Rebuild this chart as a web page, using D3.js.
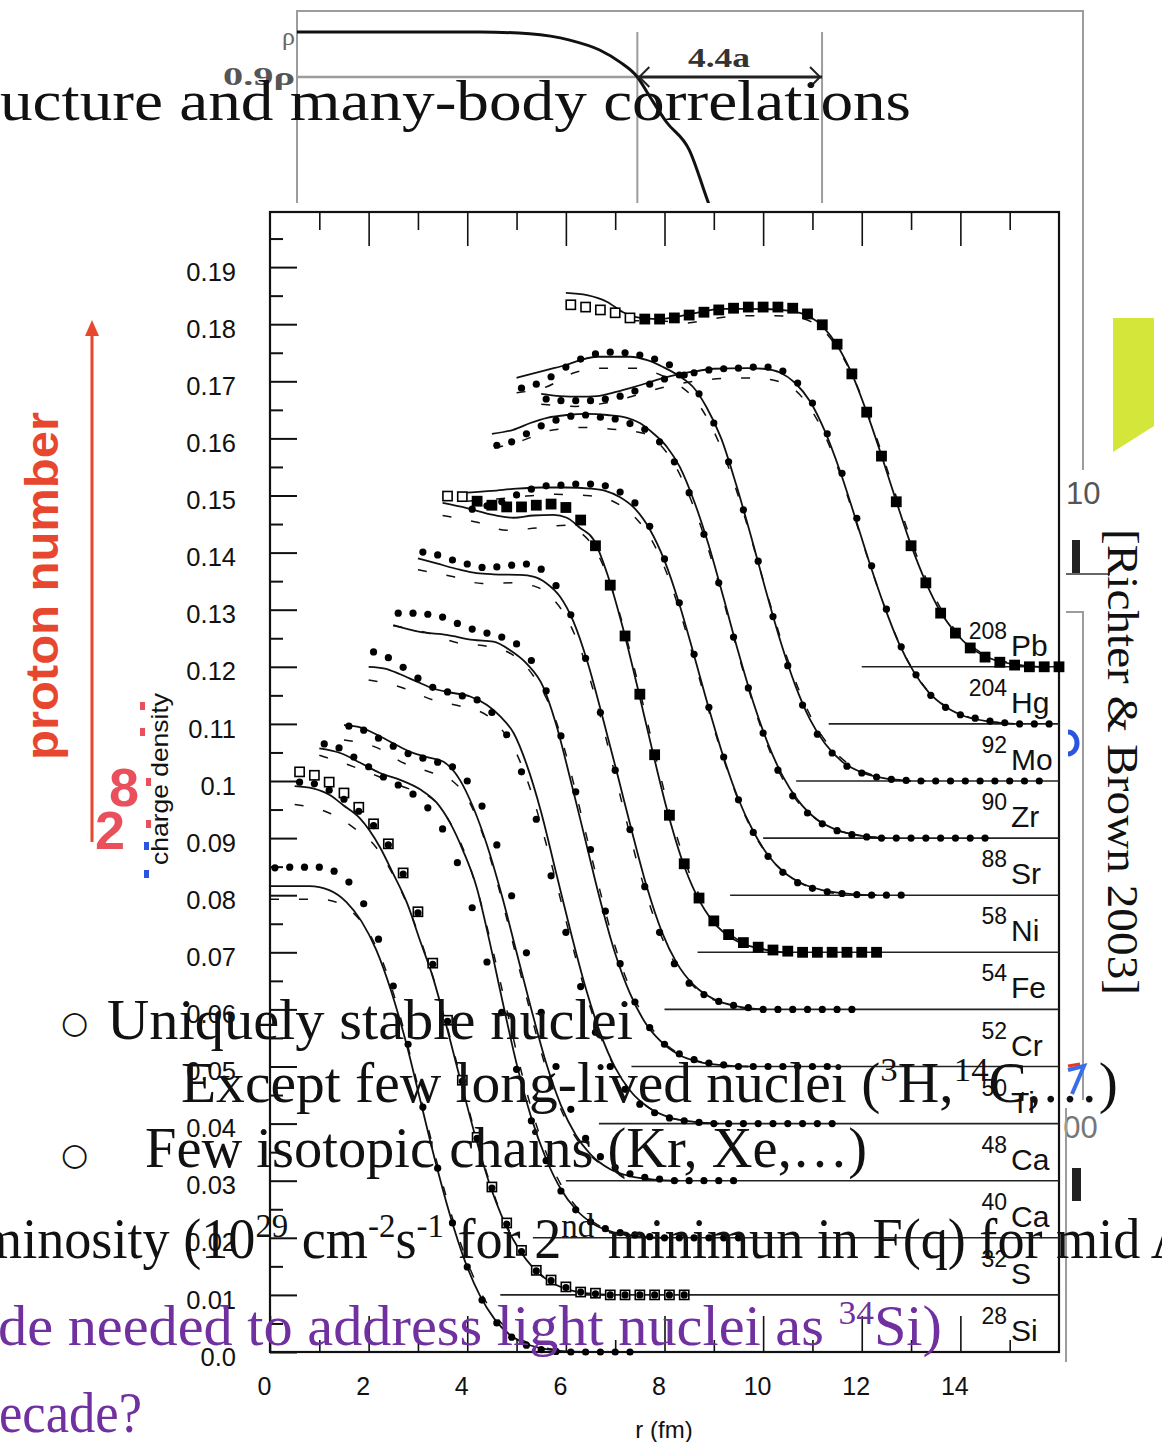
<!DOCTYPE html>
<html><head><meta charset="utf-8">
<script src="https://cdn.jsdelivr.net/npm/d3@7"></script>
<style>html,body{margin:0;padding:0;background:#fff;}svg{display:block}</style>
</head><body>
<svg id="c" width="1162" height="1442"></svg>
<script>
// ---------------- DATA ----------------
const nuclei      = ["Si","S","Ca","Ca","Ti","Cr","Fe","Ni","Sr","Zr","Mo","Hg","Pb"];
const massNumbers = ["28","32","40","48","50","52","54","58","88","90","92","204","208"];
const yOffsets    = [0,0.01,0.02,0.03,0.04,0.05,0.06,0.07,0.08,0.09,0.10,0.11,0.12];
const rShifts     = [0,0.5,1.0,1.5,2.0,2.5,3.0,3.5,4.0,4.5,5.0,5.5,6.0];
const lineStartR  = [null,4.67,5.33,6.0,6.67,7.33,8.0,8.67,9.33,10.0,10.67,11.33,12.0];
const markerR = [0.1,0.4,0.7,1.0,1.3,1.6,1.9,2.2,2.5,2.8,3.1,3.4,3.7,4.0,4.3,4.6,4.9,5.2,5.5,5.8,6.1,6.4,6.7,7.0,7.3,7.6,7.9,8.2,8.5,8.8,9.1,9.4,9.7,10.0,10.3,10.6,10.9];
const yTicks = [0,0.01,0.02,0.03,0.04,0.05,0.06,0.07,0.08,0.09,0.10,0.11,0.12,0.13,0.14,0.15,0.16,0.17,0.18,0.19];
const xTicks = [0,2,4,6,8,10,12,14];

// experimental markers (density at markerR)
const si28Dots = [0.0848,0.0849,0.0849,0.0849,0.0842,0.0823,0.0785,0.0723,0.0641,0.0539,0.0429,0.0322,0.0226,0.0149,0.0091,0.0051,0.0026,0.0012,0.0004,0.0001,0,0,0,0,0];
const s32Squares = [0.0916,0.0910,0.0898,0.0879,0.0854,0.0825,0.0790,0.0739,0.0671,0.0581,0.0481,0.0376,0.0276,0.0189,0.0126,0.0078,0.0043,0.0026,0.0014,0.0005,0.0003,0,0,0,0,0,0];
const s32Dots = [0.0898,0.0895,0.0884,0.0868,0.0847,0.0822,0.0788,0.0737,0.0669,0.0579,0.0479,0.0374,0.0274,0.0187,0.0124,0.0076,0.0042,0.0025,0.0013,0.0005,0.0002,0,0,0,0,0,0];
const ca40Dots = [0.0865,0.0858,0.0842,0.0825,0.0807,0.0793,0.0777,0.0753,0.0716,0.0657,0.0578,0.0483,0.0395,0.0295,0.0205,0.0135,0.0082,0.0049,0.0028,0.0016,0.0009,0.0005,0.0002,0,0,0,0,0,0];
const ca48Dots = [0.0796,0.0789,0.0775,0.0761,0.0748,0.0740,0.0733,0.0725,0.0700,0.0656,0.0588,0.0499,0.0399,0.0295,0.0200,0.0125,0.0074,0.0042,0.0023,0.0012,0.0006,0.0003,0,0,0,0,0];
const ti50Dots = [0.0826,0.0816,0.0799,0.0780,0.0764,0.0756,0.0749,0.0742,0.0720,0.0681,0.0616,0.0533,0.0434,0.0335,0.0240,0.0160,0.0100,0.0060,0.0034,0.0019,0.0010,0.0005,0.0002,0,0,0,0,0,0,0,0,0];
const cr52Dots = [0.0794,0.0794,0.0792,0.0787,0.0776,0.0766,0.0759,0.0752,0.0740,0.0711,0.0658,0.0579,0.0481,0.0380,0.0272,0.0180,0.0113,0.0068,0.0039,0.0022,0.0012,0.0006,0.0003,0,0,0,0,0,0,0];
const fe54Dots = [0.0801,0.0796,0.0787,0.0780,0.0774,0.0775,0.0778,0.0780,0.0771,0.0742,0.0691,0.0615,0.0520,0.0419,0.0315,0.0215,0.0135,0.0080,0.0046,0.0026,0.0014,0.0007,0.0003,0,0,0,0,0,0,0];
const ni58Squares = [0.0799,0.0798,0.0790,0.0783,0.0780,0.0780,0.0783,0.0785,0.0779,0.0757,0.0712,0.0643,0.0554,0.0452,0.0346,0.0240,0.0155,0.0095,0.0055,0.0031,0.0017,0.0009,0.0004,0.0002,0,0,0,0,0,0];
const sr88Dots = [0.0676,0.0682,0.0689,0.0701,0.0711,0.0717,0.0718,0.0720,0.0720,0.0717,0.0706,0.0687,0.0646,0.0589,0.0512,0.0422,0.0329,0.0242,0.0167,0.0110,0.0068,0.0040,0.0022,0.0012,0.0006,0.0003,0.0001,0,0,0];
const zr90Dots = [0.0688,0.0694,0.0708,0.0722,0.0732,0.0739,0.0741,0.0737,0.0734,0.0726,0.0716,0.0694,0.0659,0.0605,0.0532,0.0447,0.0352,0.0263,0.0184,0.0119,0.0074,0.0044,0.0025,0.0013,0.0006,0.0002,0,0,0,0,0,0,0,0];
const mo92Dots = [0.0688,0.0695,0.0708,0.0725,0.0739,0.0748,0.0751,0.0750,0.0746,0.0739,0.0729,0.0711,0.0678,0.0627,0.0559,0.0475,0.0385,0.0288,0.0202,0.0133,0.0082,0.0049,0.0026,0.0014,0.0007,0.0003,0.0001,0,0,0,0,0,0,0,0,0];
const hg204Dots = [0.0569,0.0566,0.0566,0.0566,0.0569,0.0574,0.0583,0.0595,0.0604,0.0611,0.0615,0.0620,0.0622,0.0623,0.0625,0.0625,0.0618,0.0597,0.0562,0.0508,0.0439,0.0360,0.0277,0.0201,0.0135,0.0086,0.0050,0.0029,0.0016,0.0010,0.0005,0.0002,0,0,0];
const pb208Squares = [0.0634,0.0630,0.0625,0.0620,0.0611,0.0609,0.0609,0.0611,0.0616,0.0621,0.0625,0.0628,0.0630,0.0630,0.0630,0.0628,0.0618,0.0599,0.0565,0.0513,0.0446,0.0369,0.0289,0.0212,0.0147,0.0094,0.0059,0.0033,0.0017,0.0008,0.0003,0,0,0];

// theory: solid [r, density]
const si28Solid = [[0,0.0816],[0.8,0.0816],[1.2,0.0809],[1.55,0.0788],[1.85,0.0755],[2.15,0.0705],[2.45,0.0634],[2.75,0.0545],[3.05,0.0440],[3.35,0.0335],[3.65,0.0240],[3.95,0.0160],[4.25,0.0100],[4.55,0.0058],[4.85,0.0031],[5.2,0.0014],[5.6,0.0005],[6.0,0.0001],[6.5,0]];
const s32Solid = [[0,0.0891],[0.37,0.0887],[0.72,0.0875],[0.98,0.0858],[1.32,0.0835],[1.73,0.0784],[1.99,0.0739],[2.28,0.0686],[2.54,0.0621],[2.79,0.0560],[3.05,0.0480],[3.35,0.0380],[3.65,0.0282],[3.95,0.0195],[4.25,0.0128],[4.55,0.0080],[4.85,0.0046],[5.2,0.0022],[5.6,0.0008],[6.0,0.0002],[6.5,0]];
const ca40Solid = [[0,0.0857],[0.42,0.0849],[0.83,0.0832],[1.23,0.0814],[1.64,0.0802],[2.05,0.0785],[2.38,0.0762],[2.65,0.0727],[2.91,0.0679],[3.19,0.0614],[3.45,0.0520],[3.7,0.0420],[4.0,0.0305],[4.3,0.0210],[4.6,0.0138],[4.9,0.0085],[5.2,0.0050],[5.6,0.0022],[6.0,0.0009],[6.5,0.0002],[7.0,0]];
const ca48Solid = [[0,0.0798],[0.33,0.0794],[0.67,0.0781],[1.0,0.0766],[1.34,0.0751],[1.68,0.0742],[2.01,0.0734],[2.35,0.0702],[2.62,0.0654],[2.9,0.0588],[3.2,0.0500],[3.5,0.0400],[3.8,0.0300],[4.1,0.0206],[4.4,0.0132],[4.7,0.0080],[5.0,0.0046],[5.4,0.0020],[5.8,0.0008],[6.3,0.0002],[6.8,0]];
const ti50Solid = [[0,0.0800],[0.33,0.0797],[0.64,0.0787],[0.98,0.0774],[1.31,0.0762],[1.65,0.0755],[2.06,0.0748],[2.4,0.0733],[2.67,0.0713],[2.94,0.0684],[3.2,0.0630],[3.5,0.0545],[3.8,0.0440],[4.1,0.0335],[4.4,0.0238],[4.7,0.0158],[5.0,0.0098],[5.3,0.0058],[5.7,0.0027],[6.1,0.0011],[6.6,0.0003],[7.1,0]];
const cr52Solid = [[0,0.0773],[0.54,0.0761],[1.08,0.0756],[1.62,0.0747],[2.03,0.0744],[2.37,0.0729],[2.7,0.0706],[3.04,0.0665],[3.3,0.0600],[3.6,0.0500],[3.9,0.0395],[4.2,0.0290],[4.5,0.0198],[4.8,0.0128],[5.1,0.0078],[5.4,0.0046],[5.8,0.0020],[6.2,0.0008],[6.7,0.0002],[7.2,0]];
const fe54Solid = [[0,0.0790],[0.38,0.0781],[0.85,0.0770],[1.19,0.0764],[1.53,0.0762],[2.07,0.0761],[2.34,0.0758],[2.61,0.0746],[2.88,0.0723],[3.15,0.0680],[3.45,0.0605],[3.75,0.0510],[4.05,0.0410],[4.35,0.0308],[4.65,0.0212],[4.95,0.0135],[5.25,0.0081],[5.6,0.0042],[6.0,0.0018],[6.5,0.0005],[7.0,0]];
const ni58Solid = [[0,0.0787],[0.49,0.0778],[1.03,0.0766],[1.44,0.0761],[1.84,0.0765],[2.25,0.0766],[2.52,0.0761],[2.79,0.0743],[3.06,0.0723],[3.35,0.0660],[3.65,0.0570],[3.95,0.0465],[4.25,0.0355],[4.55,0.0250],[4.85,0.0163],[5.15,0.0100],[5.5,0.0052],[5.9,0.0023],[6.4,0.0007],[6.9,0]];
const sr88Solid = [[0,0.0705],[0.5,0.0708],[1.0,0.0712],[1.5,0.0714],[2.0,0.0714],[2.5,0.0712],[2.8,0.0708],[3.1,0.0697],[3.4,0.0677],[3.7,0.0641],[4.0,0.0586],[4.3,0.0510],[4.6,0.0420],[4.9,0.0327],[5.2,0.0241],[5.5,0.0168],[5.8,0.0112],[6.1,0.0070],[6.4,0.0042],[6.8,0.0020],[7.2,0.0009],[7.8,0.0002],[8.3,0]];
const zr90Solid = [[0,0.0708],[0.43,0.0715],[0.78,0.0727],[1.12,0.0736],[1.52,0.0741],[1.93,0.0743],[2.34,0.0741],[2.74,0.0736],[3.0,0.0727],[3.27,0.0709],[3.55,0.0685],[3.81,0.0650],[4.1,0.0590],[4.4,0.0512],[4.7,0.0420],[5.0,0.0325],[5.3,0.0238],[5.6,0.0165],[5.9,0.0108],[6.2,0.0067],[6.6,0.0032],[7.0,0.0014],[7.5,0.0004],[8.0,0]];
const mo92Solid = [[0,0.0706],[0.62,0.0720],[1.02,0.0729],[1.29,0.0737],[1.63,0.0743],[1.96,0.0743],[2.3,0.0743],[2.65,0.0737],[2.97,0.0725],[3.32,0.0708],[3.58,0.0690],[3.85,0.0655],[4.15,0.0600],[4.45,0.0520],[4.75,0.0430],[5.05,0.0335],[5.35,0.0245],[5.65,0.0168],[5.95,0.0108],[6.25,0.0066],[6.6,0.0034],[7.0,0.0015],[7.5,0.0004],[8.0,0]];
const hg204Solid = [[0,0.0578],[0.38,0.0574],[0.79,0.0573],[1.13,0.0574],[1.46,0.0580],[1.8,0.0588],[2.15,0.0597],[2.48,0.0606],[2.82,0.0613],[3.16,0.0618],[3.49,0.0622],[4.18,0.0623],[4.5,0.0622],[4.85,0.0615],[5.15,0.0597],[5.45,0.0565],[5.75,0.0513],[6.05,0.0445],[6.35,0.0366],[6.65,0.0284],[6.95,0.0208],[7.25,0.0142],[7.55,0.0092],[7.85,0.0056],[8.2,0.0030],[8.6,0.0013],[9.1,0.0004],[9.6,0]];
const pb208Solid = [[0,0.0655],[0.43,0.0651],[0.84,0.0639],[1.16,0.0621],[1.51,0.0611],[1.85,0.0609],[2.32,0.0614],[2.72,0.0621],[3.13,0.0627],[3.67,0.0627],[4.34,0.0625],[4.69,0.0621],[4.95,0.0613],[5.22,0.0595],[5.5,0.0563],[5.8,0.0513],[6.1,0.0446],[6.4,0.0370],[6.7,0.0290],[7.0,0.0213],[7.3,0.0148],[7.6,0.0096],[7.9,0.0060],[8.2,0.0034],[8.6,0.0015],[9.1,0.0004],[9.6,0]];

// theory: dashed [r, density]
const si28Dashed = [[0,0.0793],[1.0,0.0793],[1.4,0.0786],[1.7,0.0768],[2.0,0.0735],[2.3,0.0680],[2.6,0.0600],[2.9,0.0500],[3.2,0.0395],[3.5,0.0295],[3.8,0.0207],[4.1,0.0137],[4.4,0.0085],[4.7,0.0050],[5.0,0.0027],[5.4,0.0011],[5.8,0.0004],[6.3,0]];
const s32Dashed = [[0,0.0859],[0.7,0.0844],[1.2,0.0818],[1.65,0.0784],[2.0,0.0735],[2.3,0.0680],[2.6,0.0610],[2.9,0.0530],[3.2,0.0435],[3.5,0.0335],[3.8,0.0240],[4.1,0.0162],[4.4,0.0104],[4.7,0.0062],[5.0,0.0035],[5.4,0.0014],[5.8,0.0005],[6.3,0]];
const ca40Dashed = [[0,0.0845],[0.6,0.0828],[1.2,0.0808],[1.7,0.0790],[2.3,0.0768],[2.6,0.0735],[2.9,0.0685],[3.2,0.0610],[3.5,0.0510],[3.8,0.0400],[4.1,0.0290],[4.4,0.0198],[4.7,0.0128],[5.0,0.0079],[5.3,0.0046],[5.7,0.0020],[6.2,0.0006],[6.8,0]];
const ca48Dashed = [[0,0.0772],[0.68,0.0758],[1.22,0.0731],[1.8,0.0714],[2.2,0.0700],[2.5,0.0670],[2.8,0.0610],[3.1,0.0525],[3.4,0.0425],[3.7,0.0322],[4.0,0.0225],[4.3,0.0146],[4.6,0.0090],[4.9,0.0053],[5.3,0.0024],[5.7,0.0009],[6.2,0.0002],[6.7,0]];
const ti50Dashed = [[0,0.0777],[0.7,0.0763],[1.3,0.0742],[1.9,0.0730],[2.4,0.0715],[2.7,0.0690],[3.0,0.0648],[3.3,0.0580],[3.6,0.0490],[3.9,0.0390],[4.2,0.0290],[4.5,0.0202],[4.8,0.0132],[5.1,0.0082],[5.5,0.0040],[5.9,0.0017],[6.4,0.0005],[6.9,0]];
const cr52Dashed = [[0,0.0772],[0.7,0.0759],[1.3,0.0742],[1.9,0.0736],[2.4,0.0722],[2.7,0.0700],[3.0,0.0662],[3.3,0.0605],[3.6,0.0515],[3.9,0.0410],[4.2,0.0305],[4.5,0.0210],[4.8,0.0137],[5.1,0.0085],[5.4,0.0050],[5.8,0.0022],[6.3,0.0007],[6.8,0]];
const fe54Dashed = [[0,0.0770],[0.7,0.0758],[1.3,0.0746],[1.9,0.0747],[2.4,0.0740],[2.7,0.0722],[3.0,0.0688],[3.3,0.0630],[3.6,0.0545],[3.9,0.0445],[4.2,0.0340],[4.5,0.0240],[4.8,0.0158],[5.1,0.0098],[5.4,0.0058],[5.8,0.0026],[6.3,0.0008],[6.8,0]];
const ni58Dashed = [[0,0.0765],[0.7,0.0753],[1.3,0.0739],[1.9,0.0743],[2.5,0.0748],[2.8,0.0735],[3.1,0.0705],[3.4,0.0645],[3.7,0.0560],[4.0,0.0458],[4.3,0.0350],[4.6,0.0248],[4.9,0.0163],[5.2,0.0101],[5.5,0.0060],[5.9,0.0027],[6.4,0.0008],[6.9,0]];
const sr88Dashed = [[0,0.0690],[0.6,0.0694],[1.2,0.0699],[1.8,0.0702],[2.4,0.0700],[2.8,0.0695],[3.1,0.0683],[3.4,0.0662],[3.7,0.0628],[4.0,0.0574],[4.3,0.0500],[4.6,0.0412],[4.9,0.0322],[5.2,0.0238],[5.5,0.0166],[5.8,0.0110],[6.1,0.0069],[6.5,0.0035],[7.0,0.0012],[7.6,0.0002],[8.0,0]];
const zr90Dashed = [[0.05,0.0683],[0.64,0.0697],[1.18,0.0714],[1.85,0.0719],[2.44,0.0716],[3.07,0.0709],[3.4,0.0690],[3.7,0.0655],[4.0,0.0600],[4.3,0.0530],[4.6,0.0445],[4.9,0.0352],[5.2,0.0262],[5.5,0.0183],[5.8,0.0120],[6.1,0.0075],[6.5,0.0038],[7.0,0.0014],[7.6,0.0003],[8.1,0]];
const mo92Dashed = [[0,0.0680],[0.6,0.0690],[1.2,0.0716],[1.8,0.0723],[2.4,0.0723],[2.9,0.0712],[3.3,0.0693],[3.6,0.0670],[3.9,0.0630],[4.2,0.0572],[4.5,0.0498],[4.8,0.0412],[5.1,0.0322],[5.4,0.0238],[5.7,0.0165],[6.0,0.0107],[6.3,0.0066],[6.7,0.0032],[7.2,0.0011],[7.8,0.0002],[8.3,0]];
const hg204Dashed = [[0,0.0560],[0.7,0.0556],[1.3,0.0562],[1.9,0.0575],[2.5,0.0590],[3.1,0.0600],[3.7,0.0605],[4.3,0.0606],[4.8,0.0600],[5.1,0.0588],[5.4,0.0560],[5.7,0.0515],[6.0,0.0452],[6.3,0.0376],[6.6,0.0296],[6.9,0.0220],[7.2,0.0153],[7.5,0.0100],[7.8,0.0062],[8.2,0.0031],[8.7,0.0011],[9.3,0.0002],[9.8,0]];
const pb208Dashed = [[1.3,0.0606],[1.9,0.0606],[2.4,0.0602],[3.0,0.0610],[3.6,0.0615],[4.2,0.0615],[4.7,0.0612],[5.0,0.0603],[5.3,0.0582],[5.6,0.0545],[5.9,0.0493],[6.2,0.0426],[6.5,0.0350],[6.8,0.0272],[7.1,0.0198],[7.4,0.0136],[7.7,0.0088],[8.0,0.0054],[8.4,0.0026],[8.9,0.0009],[9.5,0]];

// inset (Fermi sketch) data
const insetR   = [0,2.33,2.96,3.47,3.85,4.11,4.33,4.49,4.7,4.99,5.22,5.4];
const insetRho = [1,1,0.996,0.982,0.96,0.933,0.9,0.856,0.80,0.738,0.627,0.54];

// ---------------- TABLE ----------------
const series = [
  {solid:si28Solid, dashed:si28Dashed, marks:[{kind:"dot", v:si28Dots}]},
  {solid:s32Solid, dashed:s32Dashed, marks:[{kind:"sq", open:99, v:s32Squares},{kind:"dot", v:s32Dots}]},
  {solid:ca40Solid, dashed:ca40Dashed, marks:[{kind:"dot", v:ca40Dots}]},
  {solid:ca48Solid, dashed:ca48Dashed, marks:[{kind:"dot", v:ca48Dots}]},
  {solid:ti50Solid, dashed:ti50Dashed, marks:[{kind:"dot", v:ti50Dots}]},
  {solid:cr52Solid, dashed:cr52Dashed, marks:[{kind:"dot", v:cr52Dots}]},
  {solid:fe54Solid, dashed:fe54Dashed, marks:[{kind:"dot", v:fe54Dots}]},
  {solid:ni58Solid, dashed:ni58Dashed, marks:[{kind:"sq", open:2, v:ni58Squares}]},
  {solid:sr88Solid, dashed:sr88Dashed, marks:[{kind:"dot", v:sr88Dots}]},
  {solid:zr90Solid, dashed:zr90Dashed, marks:[{kind:"dot", v:zr90Dots}]},
  {solid:mo92Solid, dashed:mo92Dashed, marks:[{kind:"dot", v:mo92Dots}]},
  {solid:hg204Solid, dashed:hg204Dashed, marks:[{kind:"dot", v:hg204Dots}]},
  {solid:pb208Solid, dashed:pb208Dashed, marks:[{kind:"sq", open:5, v:pb208Squares}]}
];

// ---------------- DRAW ----------------
const svg = d3.select("#c");
const SANS = "'Liberation Sans', Arial, sans-serif";
const SERIF = "'Liberation Serif', 'Times New Roman', serif";

// --- background inset sketch ---
const ins = svg.append("g");
const ix = d3.scaleLinear().domain([0,10]).range([297,1083]);
const iy = d3.scaleLinear().domain([0,1]).range([482,32]);
const gray = "#9c9c9c";
ins.append("path").attr("d", `M${ix(0)},205V11H${ix(10)}V470`).attr("fill","none").attr("stroke",gray).attr("stroke-width",2);
[4.33,6.68].forEach(r => ins.append("line").attr("x1",ix(r)).attr("x2",ix(r)).attr("y1",iy(1)).attr("y2",205).attr("stroke",gray).attr("stroke-width",2));
ins.append("line").attr("x1",ix(0)).attr("x2",ix(4.33)).attr("y1",iy(0.9)).attr("y2",iy(0.9)).attr("stroke",gray).attr("stroke-width",2.5);
ins.append("path").datum(insetR.map((r,i)=>[r,insetRho[i]]))
  .attr("d", d3.line().x(d=>ix(d[0])).y(d=>iy(d[1])).curve(d3.curveMonotoneX))
  .attr("fill","none").attr("stroke","#111").attr("stroke-width",3);
ins.append("line").attr("x1",ix(4.33)).attr("x2",ix(6.68)).attr("y1",iy(0.9)).attr("y2",iy(0.9)).attr("stroke","#222").attr("stroke-width",3);
ins.append("path").attr("d",`M${ix(4.33)+12},${iy(0.9)-10}L${ix(4.33)+2},${iy(0.9)}L${ix(4.33)+12},${iy(0.9)+10}`).attr("fill","none").attr("stroke","#222").attr("stroke-width",2);
ins.append("path").attr("d",`M${ix(6.68)-12},${iy(0.9)-10}L${ix(6.68)-2},${iy(0.9)}L${ix(6.68)-12},${iy(0.9)+10}`).attr("fill","none").attr("stroke","#222").attr("stroke-width",2);
ins.append("text").attr("x",688).attr("y",67).attr("font-family",SERIF).attr("font-weight","bold").attr("font-size",27).attr("fill","#333").attr("textLength",62).attr("lengthAdjust","spacingAndGlyphs").text("4.4a");
ins.append("text").attr("x",282).attr("y",45).attr("font-family",SERIF).attr("font-size",26).attr("fill","#666").text("ρ");
ins.append("text").attr("x",223).attr("y",85).attr("font-family",SERIF).attr("font-weight","bold").attr("font-size",26).attr("fill","#555").attr("textLength",72).attr("lengthAdjust","spacingAndGlyphs").text("0.9ρ");

// --- right-hand background fragments ---
const bg = svg.append("g");
bg.append("path").attr("d","M1113,318H1154V426L1113,452Z").attr("fill","#d4e63a");
bg.append("text").attr("x",1066).attr("y",504).attr("font-family",SANS).attr("font-size",31).attr("fill","#555").text("10");
bg.append("rect").attr("x",1072).attr("y",540).attr("width",8).attr("height",33).attr("fill","#222");
bg.append("line").attr("x1",1066).attr("x2",1110).attr("y1",574).attr("y2",574).attr("stroke","#333").attr("stroke-width",1.5);
bg.append("path").attr("d","M1066,612H1083V1100").attr("fill","none").attr("stroke",gray).attr("stroke-width",2);
bg.append("path").attr("d","M1068,732A9,11 0 0 1 1068,754").attr("fill","none").attr("stroke","#2a55e0").attr("stroke-width",5);
bg.append("path").attr("d","M1068,1070L1084,1066L1072,1094").attr("fill","none").attr("stroke","#3a6ee8").attr("stroke-width",4);
bg.append("path").attr("d","M1068,1066L1080,1064").attr("fill","none").attr("stroke","#e23b2e").attr("stroke-width",3);
bg.append("text").attr("x",1046).attr("y",1138).attr("font-family",SANS).attr("font-size",31).attr("fill","#777").text("300");
bg.append("rect").attr("x",1072).attr("y",1168).attr("width",9).attr("height",33).attr("fill","#222");
bg.append("line").attr("x1",1066).attr("x2",1066).attr("y1",1108).attr("y2",1362).attr("stroke",gray).attr("stroke-width",2);
bg.append("text").attr("transform","translate(1108,762) rotate(90)").attr("text-anchor","middle")
  .attr("font-family",SERIF).attr("font-size",45).attr("fill","#111").attr("textLength",466).attr("lengthAdjust","spacingAndGlyphs")
  .text("[Richter & Brown 2003]");

// --- chart ---
const W0 = 270, W1 = 1059, T = 212, B = 1352;
svg.append("rect").attr("x",148).attr("y",203).attr("width",916).attr("height",1239).attr("fill","#fff");
const x = d3.scaleLinear().domain([0,16]).range([W0,W1]);
const y = d3.scaleLinear().domain([0,0.19965]).range([B,T]);
const chart = svg.append("g");

// left axis major ticks + labels
const yAx = chart.append("g").attr("transform",`translate(${W0},0)`)
  .call(d3.axisLeft(y).tickValues(yTicks).tickSize(-27).tickPadding(34)
    .tickFormat(d => d===0 ? "0.0" : d3.format(".2~f")(d)));
yAx.select(".domain").remove();
yAx.selectAll("line").attr("stroke","#111").attr("stroke-width",2);
yAx.selectAll("text").attr("font-family",SANS).attr("font-size",25.5).attr("fill","#111").attr("y",5);
const yMinor = chart.append("g").attr("transform",`translate(${W0},0)`)
  .call(d3.axisLeft(y).tickValues(yTicks.map(v=>v+0.005)).tickSize(-13).tickFormat(""));
yMinor.select(".domain").remove();
yMinor.selectAll("line").attr("stroke","#111").attr("stroke-width",2);

// bottom axis
const xb = chart.append("g").attr("transform",`translate(0,${B})`)
  .call(d3.axisBottom(x).tickValues(xTicks).tickSize(-36).tickPadding(25));
xb.select(".domain").remove();
xb.selectAll("line").attr("stroke","#111").attr("stroke-width",1.6);
xb.selectAll("text").attr("font-family",SANS).attr("font-size",25).attr("fill","#111").attr("x",-6);
const xbm = chart.append("g").attr("transform",`translate(0,${B})`)
  .call(d3.axisBottom(x).tickValues([1,3,5,7,9,11,13,15]).tickSize(-12).tickFormat(""));
xbm.select(".domain").remove();
xbm.selectAll("line").attr("stroke","#111").attr("stroke-width",1.6);
// top axis
const xt = chart.append("g").attr("transform",`translate(0,${T})`)
  .call(d3.axisTop(x).tickValues([2,4,6,8,10,12,14]).tickSize(-34).tickFormat(""));
xt.select(".domain").remove();
xt.selectAll("line").attr("stroke","#111").attr("stroke-width",1.6);
const xtm = chart.append("g").attr("transform",`translate(0,${T})`)
  .call(d3.axisTop(x).tickValues([1,3,5,7,9,11,13,15]).tickSize(-18).tickFormat(""));
xtm.select(".domain").remove();
xtm.selectAll("line").attr("stroke","#111").attr("stroke-width",1.6);

chart.append("rect").attr("x",W0).attr("y",T).attr("width",W1-W0).attr("height",B-T)
  .attr("fill","none").attr("stroke","#111").attr("stroke-width",2.2);

// axis titles
chart.append("text").attr("x",664).attr("y",1438).attr("text-anchor","middle").attr("font-family",SANS).attr("font-size",24).attr("fill","#111").text("r (fm)");
chart.append("text").attr("transform","translate(168,779) rotate(-90)").attr("text-anchor","middle")
  .attr("font-family",SANS).attr("font-size",24).attr("fill","#111").attr("textLength",172).attr("lengthAdjust","spacingAndGlyphs").text("charge density");

// baselines
series.forEach((s,i) => {
  if (lineStartR[i] === null) return;
  chart.append("line").attr("x1",x(lineStartR[i])).attr("x2",W1).attr("y1",y(yOffsets[i])).attr("y2",y(yOffsets[i]))
    .attr("stroke","#222").attr("stroke-width",1.6);
});

// curves
series.forEach((s,i) => {
  const ln = d3.line().x(d => x(d[0] + rShifts[i])).y(d => y(d[1] + yOffsets[i])).curve(d3.curveMonotoneX);
  chart.append("path").attr("d", ln(s.solid)).attr("fill","none").attr("stroke","#111").attr("stroke-width",1.8);
  chart.append("path").attr("d", ln(s.dashed)).attr("fill","none").attr("stroke","#111").attr("stroke-width",1.5).attr("stroke-dasharray","9,20");
});

// markers
series.forEach((s,i) => {
  s.marks.forEach(m => {
    const pts = m.v.map((v,k) => ({r: markerR[k] + rShifts[i], v: v + yOffsets[i], k}));
    if (m.kind === "dot") {
      chart.append("g").selectAll("circle").data(pts).join("circle")
        .attr("cx", d => x(d.r)).attr("cy", d => y(d.v)).attr("r", 3.6).attr("fill","#000");
    } else {
      chart.append("g").selectAll("rect").data(pts).join("rect")
        .attr("x", d => x(d.r)-4.6).attr("y", d => y(d.v)-4.6).attr("width",9.2).attr("height",9.2)
        .attr("fill", d => d.k < m.open ? "#fff" : "#000").attr("stroke","#000").attr("stroke-width",1.6);
    }
  });
});

// nucleus labels
series.forEach((s,i) => {
  const yl = y(yOffsets[i]);
  chart.append("text").attr("x",1007).attr("y",yl-28).attr("text-anchor","end").attr("font-family",SANS).attr("font-size",23).attr("fill","#111").text(massNumbers[i]);
  chart.append("text").attr("x",1011).attr("y",yl-11).attr("font-family",SANS).attr("font-size",30).attr("fill","#111").text(nuclei[i]);
});

// --- left slide elements ---
const red = "#e8472f";
const left = svg.append("g");
left.append("text").attr("transform","translate(58,586) rotate(-90)").attr("text-anchor","middle")
  .attr("font-family",SANS).attr("font-weight","bold").attr("font-size",46).attr("fill",red)
  .attr("textLength",348).attr("lengthAdjust","spacingAndGlyphs").text("proton number");
left.append("line").attr("x1",92).attr("x2",92).attr("y1",842).attr("y2",332).attr("stroke",red).attr("stroke-width",3);
left.append("path").attr("d","M92,320L85,336L99,336Z").attr("fill",red);
left.append("text").attr("x",109).attr("y",806).attr("font-family",SANS).attr("font-weight","bold").attr("font-size",54).attr("fill","#e9505c").text("8");
left.append("text").attr("x",95).attr("y",849).attr("font-family",SANS).attr("font-weight","bold").attr("font-size",54).attr("fill","#e9505c").text("2");
[[140,702,"#e9505c"],[140,728,"#e9505c"],[146,778,"#e9505c"],[146,820,"#e9505c"],[144,842,"#2a55e0"],[144,870,"#2a55e0"]].forEach(p =>
  left.append("rect").attr("x",p[0]).attr("y",p[1]).attr("width",5).attr("height",8).attr("fill",p[2]));

// --- overlay slide text ---
const over = svg.append("g");
function rich(xp, yp, segs, len, color, size) {
  const t = over.append("text").attr("x",xp).attr("y",yp).attr("font-family",SERIF).attr("font-size",size||56)
    .attr("fill",color||"#111");
  if (len) t.attr("textLength",len).attr("lengthAdjust","spacingAndGlyphs");
  let up = false;
  segs.forEach(sg => {
    const sup = Array.isArray(sg);
    const txt = sup ? sg[0] : sg;
    const ts = t.append("tspan").text(txt);
    if (sup && !up) { ts.attr("dy",-21).attr("font-size",34); up = true; }
    else if (sup) { ts.attr("font-size",34); }
    else if (!sup && up) { ts.attr("dy",21); up = false; }
  });
  return t;
}
rich(0,120,["ucture and many-body correlations"],911);
over.append("text").attr("x",61).attr("y",1033).attr("font-family","'DejaVu Sans'").attr("font-size",31).attr("fill","#111").text("○");
over.append("text").attr("x",61).attr("y",1165).attr("font-family","'DejaVu Sans'").attr("font-size",31).attr("fill","#111").text("○");
rich(107,1039,["Uniquely stable nuclei"],526);
rich(181,1102,["Except few long-lived nuclei (",["3"],"H,",["14"],"C,…)"],937);
rich(145,1167,["Few isotopic chains (Kr, Xe,…)"],722);
rich(-20,1258,["minosity (10",["29"]," cm",["-2"],"s",["-1"]," for 2",["nd"]," minimun in F(q) for mid A"],1210);
rich(-2,1345,["de needed to address light nuclei as ",["34"],"Si)"],944,"#7030a0");
rich(-1,1432,["ecade?"],143,"#7030a0");
</script>
</body></html>
